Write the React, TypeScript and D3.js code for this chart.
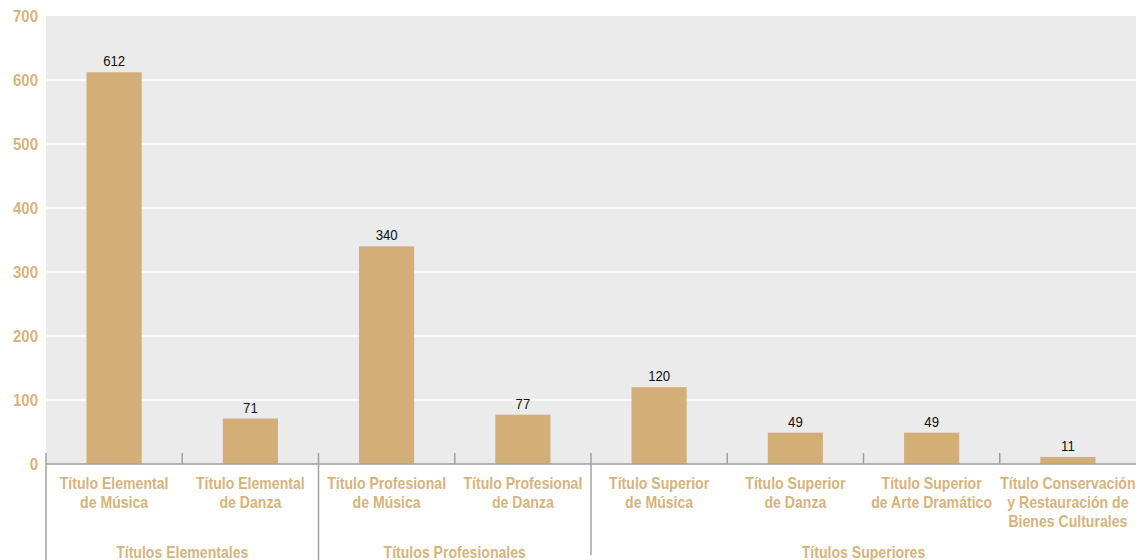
import React from "react";
import * as d3 from "d3";

const categories: string[][] = [
  ["Título Elemental", "de Música"],
  ["Título Elemental", "de Danza"],
  ["Título Profesional", "de Música"],
  ["Título Profesional", "de Danza"],
  ["Título Superior", "de Música"],
  ["Título Superior", "de Danza"],
  ["Título Superior", "de Arte Dramático"],
  ["Título Conservación", "y Restauración de", "Bienes Culturales"],
];
const values: number[] = [612, 71, 340, 77, 120, 49, 49, 11];
const groups: string[] = ["Títulos Elementales", "Títulos Profesionales", "Títulos Superiores"];
const groupSpans: number[][] = [[0, 2], [2, 4], [4, 8]];
const yTicks: number[] = [0, 100, 200, 300, 400, 500, 600, 700];

const W = 1136;
const H = 560;
const left = 46;
const right = 1136;
const top = 16;
const bottom = 464;
const TAN = "#d7b37c";
const BAR = "#d4ae77";
const FONT = "'Liberation Sans', Arial, sans-serif";
const SX = 0.88;

function CText(props: { x: number; y: number; size: number; anchor: string; fill: string; bold?: boolean; children: React.ReactNode }) {
  return (
    <g transform={`translate(${props.x},${props.y}) scale(${SX},1)`}>
      <text x={0} y={0} textAnchor={props.anchor as any} fill={props.fill} fontWeight={props.bold ? "bold" : "normal"} fontSize={props.size}>
        {props.children}
      </text>
    </g>
  );
}

export default function App() {
  const x = d3.scaleBand<number>().domain(d3.range(categories.length)).range([left, right]).paddingInner(0).paddingOuter(0);
  const y = d3.scaleLinear().domain([0, 700]).range([bottom, top]);
  const bw = x.bandwidth();
  const barW = bw * 0.405;
  return (
    <svg width={W} height={H} style={{ position: "absolute", left: 0, top: 0 }} fontFamily={FONT}>
      <rect x={left} y={top} width={right - left} height={bottom - top} fill="#ebebeb" />
      {yTicks.map((t) => (
        <g key={t}>
          {t > 0 && t < 700 && <line x1={left} x2={right} y1={y(t)} y2={y(t)} stroke="#fff" strokeWidth={1.5} />}
          <CText x={38} y={y(t) + 6} size={17} anchor="end" fill={TAN} bold>{t}</CText>
        </g>
      ))}
      {values.map((v, i) => {
        const cx = (x(i) as number) + bw / 2;
        return (
          <g key={i}>
            <rect x={cx - barW / 2} y={y(v)} width={barW} height={y(0) - y(v)} fill={BAR} />
            <CText x={cx} y={y(v) - 6} size={15} anchor="middle" fill="#111">{v}</CText>
            {categories[i].map((line, j) => (
              <CText key={j} x={cx} y={489 + j * 19} size={16} anchor="middle" fill={TAN} bold>{line}</CText>
            ))}
          </g>
        );
      })}
      <line x1={left} x2={right} y1={bottom} y2={bottom} stroke="#a0a0a0" strokeWidth={1.5} />
      {d3.range(categories.length).map((i) => {
        const isGroupStart = groupSpans.some((g) => g[0] === i);
        const gx = x(i) as number;
        const bottomY = i === 0 || i === 2 ? 560 : isGroupStart ? 555 : bottom;
        return <line key={i} x1={gx} x2={gx} y1={453} y2={bottomY} stroke="#a0a0a0" strokeWidth={1.5} />;
      })}
      {groups.map((g, k) => {
        const x0 = x(groupSpans[k][0]) as number;
        const x1 = (x(groupSpans[k][1] - 1) as number) + bw;
        return (
          <CText key={g} x={(x0 + x1) / 2} y={558} size={16} anchor="middle" fill={TAN} bold>{g}</CText>
        );
      })}
    </svg>
  );
}
